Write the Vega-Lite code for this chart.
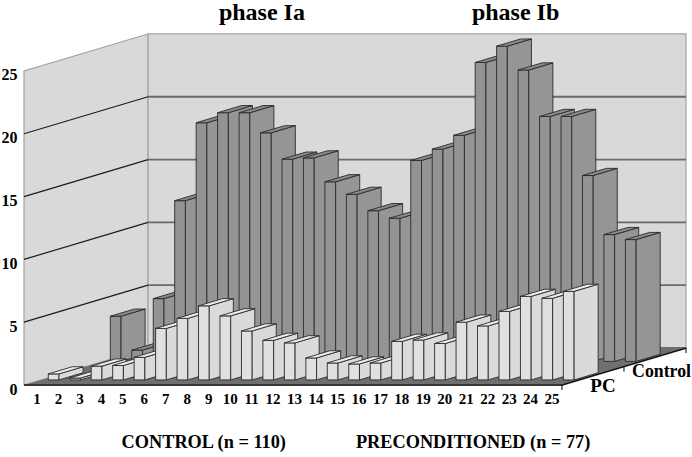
{
"$schema":"https://vega.github.io/schema/vega-lite/v6.json",
"width":662,"height":385,
"autosize":{"type":"none"},
"padding":{"left":24,"right":6,"top":0,"bottom":72},
"background":"white",
"config":{"view":{"stroke":null},"axis":{"title":null}},
"datasets":{
"bars":[
{"bar":1,"group":"Control","count":3.6},{"bar":2,"group":"Control","count":0.9},{"bar":3,"group":"Control","count":5.0},{"bar":4,"group":"Control","count":12.8},{"bar":5,"group":"Control","count":19.0},{"bar":6,"group":"Control","count":19.8},{"bar":7,"group":"Control","count":19.8},{"bar":8,"group":"Control","count":18.2},{"bar":9,"group":"Control","count":16.1},{"bar":10,"group":"Control","count":16.2},{"bar":11,"group":"Control","count":14.3},{"bar":12,"group":"Control","count":13.3},{"bar":13,"group":"Control","count":12.0},{"bar":14,"group":"Control","count":11.4},{"bar":15,"group":"Control","count":16.0},{"bar":16,"group":"Control","count":16.9},{"bar":17,"group":"Control","count":18.0},{"bar":18,"group":"Control","count":23.8},{"bar":19,"group":"Control","count":25.1},{"bar":20,"group":"Control","count":23.2},{"bar":21,"group":"Control","count":19.5},{"bar":22,"group":"Control","count":19.5},{"bar":23,"group":"Control","count":14.8},{"bar":24,"group":"Control","count":10.1},{"bar":25,"group":"Control","count":9.7},
{"bar":1,"group":"PC","count":0.48},{"bar":2,"group":"PC","count":0.15},{"bar":3,"group":"PC","count":1.1},{"bar":4,"group":"PC","count":1.15},{"bar":5,"group":"PC","count":1.8},{"bar":6,"group":"PC","count":4.1},{"bar":7,"group":"PC","count":4.9},{"bar":8,"group":"PC","count":5.9},{"bar":9,"group":"PC","count":5.1},{"bar":10,"group":"PC","count":3.9},{"bar":11,"group":"PC","count":3.15},{"bar":12,"group":"PC","count":2.95},{"bar":13,"group":"PC","count":1.75},{"bar":14,"group":"PC","count":1.35},{"bar":15,"group":"PC","count":1.27},{"bar":16,"group":"PC","count":1.35},{"bar":17,"group":"PC","count":3.07},{"bar":18,"group":"PC","count":3.18},{"bar":19,"group":"PC","count":2.9},{"bar":20,"group":"PC","count":4.6},{"bar":21,"group":"PC","count":4.3},{"bar":22,"group":"PC","count":5.46},{"bar":23,"group":"PC","count":6.65},{"bar":24,"group":"PC","count":6.5},{"bar":25,"group":"PC","count":7.05}
],
"room":[
{"surface":"left","corner":0,"day":0.394,"count":0,"depth":0},{"surface":"left","corner":1,"day":0.394,"count":0,"depth":1},{"surface":"left","corner":2,"day":0.394,"count":25,"depth":1},{"surface":"left","corner":3,"day":0.394,"count":25,"depth":0},{"surface":"left","corner":4,"day":0.394,"count":0,"depth":0},
{"surface":"back","corner":0,"day":0.394,"count":0,"depth":1},{"surface":"back","corner":1,"day":25.46,"count":0,"depth":1},{"surface":"back","corner":2,"day":25.46,"count":25,"depth":1},{"surface":"back","corner":3,"day":0.394,"count":25,"depth":1},{"surface":"back","corner":4,"day":0.394,"count":0,"depth":1}
],
"floor":[
{"corner":0,"day":0.394,"count":0,"depth":0},{"corner":1,"day":25.46,"count":0,"depth":0},{"corner":2,"day":25.46,"count":0,"depth":1},{"corner":3,"day":0.394,"count":0,"depth":1}
],
"grid":[{"level":5},{"level":10},{"level":15},{"level":20}],
"edge":[
{"corner":0,"day":0.394,"count":0,"depth":0},{"corner":1,"day":25.46,"count":0,"depth":0},{"corner":2,"day":25.46,"count":0,"depth":1}
],
"ticks":[
{"tick":"a","corner":0,"day":25.46,"count":0,"depth":0},{"tick":"a","corner":1,"day":25.46,"count":-0.4,"depth":0},
{"tick":"b","corner":0,"day":25.46,"count":0,"depth":0.5},{"tick":"b","corner":1,"day":25.46,"count":-0.4,"depth":0.5},
{"tick":"c","corner":0,"day":25.46,"count":0,"depth":1},{"tick":"c","corner":1,"day":25.46,"count":-0.4,"depth":1}
]
},
"layer":[
{"data":{"name":"room"},
 "transform":[{"calculate":"datum.day+datum.depth*5.78","as":"pu"},{"calculate":"datum.count+datum.depth*2.946","as":"pc"}],
 "mark":{"type":"line","filled":true,"fill":"#d9d9d9","stroke":"#a3a3a3","strokeWidth":1.2},
 "encoding":{
  "x":{"field":"pu","type":"quantitative","scale":{"domain":[0.394,31.24],"nice":false,"zero":false},
       "axis":{"title":null,"grid":false,"domain":false,"ticks":false,"labels":false}},
  "y":{"field":"pc","type":"quantitative","scale":{"domain":[0,30.65],"nice":false,"zero":false},
       "axis":{"values":[0,5,10,15,20,25],"title":null,"grid":false,"domain":false,"ticks":false,"labelFont":"Liberation Serif","labelFontWeight":"bold","labelFontSize":16,"labelColor":"#000","labelPadding":7,"labelOffset":4,"labelOverlap":false,"labelFlush":false,"labelBound":false}},
  "detail":{"field":"surface"},
  "order":{"field":"corner","type":"quantitative"}
 }},
{"data":{"name":"grid"},
 "transform":[{"calculate":"[0,1]","as":"end"},{"flatten":["end"]},{"calculate":"0.394+datum.end*5.78","as":"pu"},{"calculate":"datum.level+datum.end*2.946","as":"pc"}],
 "mark":{"type":"line","stroke":"#1c1c1c","strokeWidth":1.2},
 "encoding":{"x":{"field":"pu","type":"quantitative"},"y":{"field":"pc","type":"quantitative"},"detail":{"field":"level"},"order":{"field":"end","type":"quantitative"}}},
{"data":{"name":"grid"},
 "transform":[{"calculate":"[0,1]","as":"end"},{"flatten":["end"]},{"calculate":"6.174+datum.end*25.066","as":"pu"},{"calculate":"datum.level+2.946","as":"pc"}],
 "mark":{"type":"line","stroke":"#6a6a6a","strokeWidth":1.8},
 "encoding":{"x":{"field":"pu","type":"quantitative"},"y":{"field":"pc","type":"quantitative"},"detail":{"field":"level"},"order":{"field":"end","type":"quantitative"}}},
{"data":{"name":"floor"},
 "transform":[{"calculate":"datum.day+datum.depth*5.78","as":"pu"},{"calculate":"datum.count+datum.depth*2.946","as":"pc"}],
 "mark":{"type":"line","filled":true,"fill":"#6f6f6f","stroke":"#6f6f6f"},
 "encoding":{"x":{"field":"pu","type":"quantitative"},"y":{"field":"pc","type":"quantitative"},"order":{"field":"corner","type":"quantitative"}}},
{"data":{"name":"edge"},
 "transform":[{"calculate":"datum.day+datum.depth*5.78","as":"pu"},{"calculate":"datum.count+datum.depth*2.946","as":"pc"}],
 "mark":{"type":"line","stroke":"#000","strokeWidth":1.2},
 "encoding":{"x":{"field":"pu","type":"quantitative"},"y":{"field":"pc","type":"quantitative"},"order":{"field":"corner","type":"quantitative"}}},
{"data":{"name":"ticks"},
 "transform":[{"calculate":"datum.day+datum.depth*5.78","as":"pu"},{"calculate":"datum.count+datum.depth*2.946","as":"pc"}],
 "mark":{"type":"line","stroke":"#000","strokeWidth":1},
 "encoding":{"x":{"field":"pu","type":"quantitative"},"y":{"field":"pc","type":"quantitative"},"detail":{"field":"tick"},"order":{"field":"corner","type":"quantitative"}}},
{"data":{"name":"bars"},
 "transform":[
  {"calculate":"['front','side','top']","as":"face"},{"flatten":["face"]},
  {"calculate":"[0,1,2,3,4]","as":"corner"},{"flatten":["corner"]},
  {"calculate":"datum.bar-0.266","as":"x0"},
  {"calculate":"datum.x0+0.5","as":"x1"},
  {"calculate":"datum.group=='PC'?0.137:0.637","as":"d0"},
  {"calculate":"datum.d0+0.194","as":"d1"},
  {"calculate":"datum.corner==1||datum.corner==2","as":"mid"},
  {"calculate":"datum.corner==2||datum.corner==3","as":"up"},
  {"calculate":"datum.face=='side'?datum.x1:(datum.mid?datum.x1:datum.x0)","as":"u"},
  {"calculate":"datum.face=='front'?datum.d0:(datum.face=='side'?(datum.mid?datum.d1:datum.d0):(datum.up?datum.d1:datum.d0))","as":"dep"},
  {"calculate":"datum.face=='top'?datum.count:(datum.up?datum.count:0)","as":"h"},
  {"calculate":"datum.u+datum.dep*5.78","as":"pu"},
  {"calculate":"datum.h+datum.dep*2.946","as":"pc"},
  {"calculate":"datum.group+' '+datum.face","as":"shade"},
  {"calculate":"datum.group+datum.bar+datum.face","as":"poly"}
 ],
 "mark":{"type":"line","filled":true,"stroke":"#2a2a2a","strokeWidth":0.9,"strokeJoin":"round"},
 "encoding":{
  "x":{"field":"pu","type":"quantitative"},
  "y":{"field":"pc","type":"quantitative"},
  "detail":{"field":"poly"},
  "order":{"field":"corner","type":"quantitative"},
  "color":{"field":"shade","type":"nominal","legend":null,"scale":{"domain":["Control front","Control side","Control top","PC front","PC side","PC top"],"range":["#939393","#959595","#8a8a8a","#e0e0e0","#dadada","#ececec"]}}
 }},
{"data":{"name":"bars"},
 "transform":[{"filter":"datum.group=='PC'"}],
 "mark":{"type":"text","font":"Liberation Serif","fontWeight":"bold","fontSize":15,"color":"#000"},
 "encoding":{"text":{"field":"bar","type":"nominal"},"x":{"field":"bar","type":"quantitative"},"y":{"datum":-1.11,"type":"quantitative"}}},
{"data":{"values":[{"label":"phase Ia"}]},"mark":{"type":"text","font":"Liberation Serif","fontWeight":"bold","fontSize":24,"color":"#000"},
 "encoding":{"text":{"field":"label"},"x":{"datum":11.48,"type":"quantitative"},"y":{"datum":29.6,"type":"quantitative"}}},
{"data":{"values":[{"label":"phase Ib"}]},"mark":{"type":"text","font":"Liberation Serif","fontWeight":"bold","fontSize":24,"color":"#000"},
 "encoding":{"text":{"field":"label"},"x":{"datum":23.3,"type":"quantitative"},"y":{"datum":29.6,"type":"quantitative"}}},
{"data":{"values":[{"label":"CONTROL (n = 110)"}]},"mark":{"type":"text","font":"Liberation Serif","fontWeight":"bold","fontSize":18.3,"color":"#000"},
 "encoding":{"text":{"field":"label"},"x":{"datum":8.77,"type":"quantitative"},"y":{"datum":-4.6,"type":"quantitative"}}},
{"data":{"values":[{"label":"PRECONDITIONED  (n = 77)"}]},"mark":{"type":"text","font":"Liberation Serif","fontWeight":"bold","fontSize":18.3,"color":"#000"},
 "encoding":{"text":{"field":"label"},"x":{"datum":21.32,"type":"quantitative"},"y":{"datum":-4.6,"type":"quantitative"}}},
{"data":{"values":[{"label":"PC"}]},"mark":{"type":"text","font":"Liberation Serif","fontWeight":"bold","fontSize":19,"color":"#000"},
 "encoding":{"text":{"field":"label"},"x":{"datum":27.37,"type":"quantitative"},"y":{"datum":-0.08,"type":"quantitative"}}},
{"data":{"values":[{"label":"Control"}]},"mark":{"type":"text","font":"Liberation Serif","fontWeight":"bold","fontSize":17.8,"color":"#000"},
 "encoding":{"text":{"field":"label"},"x":{"datum":30.1,"type":"quantitative"},"y":{"datum":1.03,"type":"quantitative"}}}
]
}
